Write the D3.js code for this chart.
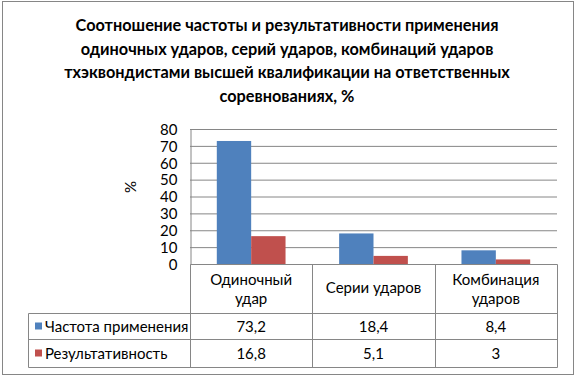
<!DOCTYPE html>
<html>
<head>
<meta charset="utf-8">
<script src="https://cdn.jsdelivr.net/npm/d3@7"></script>
<style>
  body { margin: 0; background: #fff; }
  svg { display: block; font-family: Lato, "Open Sans", sans-serif; }
</style>
</head>
<body>
<svg id="chart" width="575" height="376"></svg>
<script>
// Data
const titleLines = [
  "Соотношение частоты и результативности применения",
  "одиночных ударов, серий ударов, комбинаций ударов",
  "тхэквондистами высшей квалификации на ответственных",
  "соревнованиях, %"
];
const categories = ["Одиночный удар", "Серии ударов", "Комбинация ударов"];
const categoryLines = [["Одиночный", "удар"], ["Серии ударов"], ["Комбинация", "ударов"]];
const seriesNames = ["Частота применения", "Результативность"];
const seriesColors = ["#4f81bd", "#c0504d"];
const frequency = [73.2, 18.4, 8.4];
const effectiveness = [16.8, 5.1, 3];
const valueLabels = [["73,2", "18,4", "8,4"], ["16,8", "5,1", "3"]];
const yTicks = [0, 10, 20, 30, 40, 50, 60, 70, 80];

const series = [frequency, effectiveness];

const svg = d3.select("#chart");
const gridColor = "#868686";

// outer frame
svg.append("rect")
  .attr("x", 2.5).attr("y", 1.5)
  .attr("width", 571).attr("height", 373)
  .attr("fill", "none")
  .attr("stroke", gridColor);

// title
svg.append("g").selectAll("text")
  .data(titleLines)
  .enter().append("text")
  .attr("x", 287)
  .attr("y", (d, i) => 31 + i * 23.5)
  .attr("text-anchor", "middle")
  .style("font-size", "16.3px")
  .style("font-weight", "bold")
  .attr("fill", "#000")
  .text(d => d);

// scales
const x = d3.scaleBand().domain(categories).range([190, 557]);
const x1 = d3.scaleBand().domain(seriesNames)
  .range([0, x.bandwidth()])
  .paddingOuter(0.78).paddingInner(0);
const y = d3.scaleLinear().domain([0, 80]).range([264.5, 129.5]);

// gridlines
svg.append("g").selectAll("line")
  .data(yTicks.slice(1))
  .enter().append("line")
  .attr("x1", 190).attr("x2", 557)
  .attr("y1", d => y(d)).attr("y2", d => y(d))
  .attr("stroke", gridColor);

// bars
const groups = svg.append("g").selectAll("g")
  .data(categories)
  .enter().append("g")
  .attr("transform", d => `translate(${x(d)},0)`);

groups.selectAll("rect")
  .data((d, ci) => seriesNames.map((s, si) => ({ s: s, v: series[si][ci], c: seriesColors[si] })))
  .enter().append("rect")
  .attr("x", d => x1(d.s))
  .attr("width", x1.bandwidth())
  .attr("y", d => y(d.v))
  .attr("height", d => y(0) - y(d.v))
  .attr("fill", d => d.c);

// y axis
const yAxis = svg.append("g")
  .attr("transform", "translate(190.5,0)")
  .call(d3.axisLeft(y).tickValues(yTicks).tickSize(0).tickPadding(13));
yAxis.select(".domain").attr("stroke", gridColor);
yAxis.selectAll("text")
  .style("font-size", "15px")
  .style("font-family", "Lato, sans-serif")
  .attr("fill", "#000");

svg.append("text")
  .attr("transform", "translate(136,187) rotate(-90)")
  .attr("text-anchor", "middle")
  .style("font-size", "15px")
  .text("%");

// data table
const tableLeft = 28.5, tableRight = 557.5;
const rowTops = [264.5, 313.5, 339.5, 367.5];
const cols = [190.5, 312.5, 435.5, 557.5];

const table = svg.append("g").attr("stroke", gridColor).attr("fill", "none");
// horizontal lines
table.append("line").attr("x1", cols[0]).attr("x2", tableRight).attr("y1", rowTops[0]).attr("y2", rowTops[0]);
[1, 2, 3].forEach(i => {
  table.append("line").attr("x1", tableLeft).attr("x2", tableRight).attr("y1", rowTops[i]).attr("y2", rowTops[i]);
});
// vertical lines
cols.forEach(cx => {
  table.append("line").attr("x1", cx).attr("x2", cx).attr("y1", rowTops[0]).attr("y2", rowTops[3]);
});
table.append("line").attr("x1", tableLeft).attr("x2", tableLeft).attr("y1", rowTops[1]).attr("y2", rowTops[3]);

// category headers
const head = svg.append("g").selectAll("text")
  .data(categories)
  .enter().append("text")
  .attr("text-anchor", "middle")
  .style("font-size", "15px")
  .attr("fill", "#000");
head.each(function(d, i) {
  const lines = categoryLines[i];
  const cx = x(d) + x.bandwidth() / 2;
  const startY = lines.length === 1 ? 293 : 285;
  d3.select(this).selectAll("tspan")
    .data(lines)
    .enter().append("tspan")
    .attr("x", cx)
    .attr("y", (l, k) => startY + k * 18.5)
    .text(l => l);
});

// legend cells and values
seriesNames.forEach((name, si) => {
  const midY = (rowTops[si + 1] + rowTops[si + 2]) / 2;
  svg.append("rect")
    .attr("x", 35).attr("y", midY - 4)
    .attr("width", 7).attr("height", 7)
    .attr("fill", seriesColors[si]);
  svg.append("text")
    .attr("x", 45).attr("y", midY + 5)
    .style("font-size", "15px")
    .attr("fill", "#000")
    .text(name);
  categories.forEach((c, ci) => {
    svg.append("text")
      .attr("x", x(c) + x.bandwidth() / 2)
      .attr("y", midY + 5)
      .attr("text-anchor", "middle")
      .style("font-size", "15px")
      .attr("fill", "#000")
      .text(valueLabels[si][ci]);
  });
});
</script>
</body>
</html>
